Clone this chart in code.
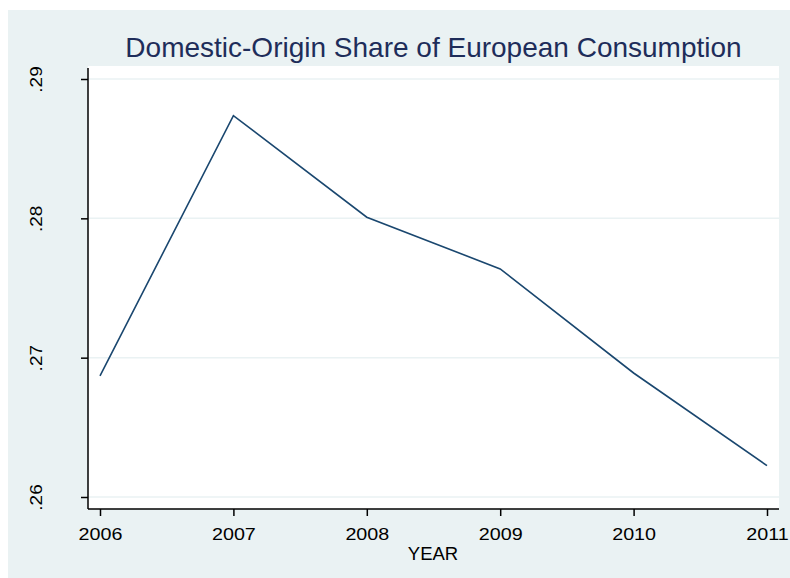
<!DOCTYPE html>
<html>
<meta charset="utf-8">
<style>
  body {
    margin: 0;
    background-color: #fff;
  }
  text {
    font-family: 'Liberation Sans', Arial, sans-serif;
  }
</style>
<body>
<script src="https://d3js.org/d3.v7.min.js"></script>
<script>

// values
var years = [2006, 2007, 2008, 2009, 2010, 2011];
var share = [0.2687, 0.28737, 0.28008, 0.27637, 0.2689, 0.26225];
var yTicks = [0.26, 0.27, 0.28, 0.29];
var yTickLabels = ['.26', '.27', '.28', '.29'];

var width = 790;
var height = 578;

var svg = d3
  .select('body')
  .append('svg')
  .attr('width', width)
  .attr('height', height);

// outer graph region (stata style)
svg
  .append('rect')
  .attr('x', 8)
  .attr('y', 10)
  .attr('width', width - 8)
  .attr('height', height - 10)
  .style('fill', '#eaf2f3');

var plot = { left: 88, right: 779, top: 66, bottom: 509 };

svg
  .append('rect')
  .attr('x', plot.left)
  .attr('y', plot.top)
  .attr('width', plot.right - plot.left)
  .attr('height', plot.bottom - plot.top)
  .style('fill', '#fff');

var x = d3
  .scaleLinear()
  .domain([2006, 2011])
  .range([100, 767]);

var y = d3
  .scaleLinear()
  .domain([0.26, 0.29])
  .range([497, 79]);

// gridlines
svg
  .append('g')
  .selectAll('line')
  .data(yTicks)
  .enter()
  .append('line')
  .attr('x1', plot.left)
  .attr('x2', plot.right)
  .attr('y1', function(d) { return y(d); })
  .attr('y2', function(d) { return y(d); })
  .style('stroke', '#eaf2f3')
  .style('stroke-width', 1.5);

// y axis
var yAxis = d3
  .axisLeft(y)
  .tickValues(yTicks)
  .tickSize(7)
  .tickPadding(0)
  .tickFormat(function(d, i) { return yTickLabels[i]; });

var gy = svg
  .append('g')
  .attr('transform', 'translate(' + plot.left + ',0)')
  .call(yAxis);

gy.select('.domain').remove();
gy.append('line')
  .attr('x1', 0)
  .attr('x2', 0)
  .attr('y1', plot.top + 2)
  .attr('y2', plot.bottom)
  .style('stroke', '#000')
  .style('stroke-width', 1.5);
gy.selectAll('.tick line').style('stroke', '#000').style('stroke-width', 1.5);
// labels are a bit wider than plain Arial in the original, hence the scale
gy.selectAll('.tick text')
  .attr('transform', 'translate(-46,0) rotate(-90) scale(1.12,1)')
  .attr('x', 0)
  .attr('dy', 0)
  .attr('text-anchor', 'middle')
  .style('font-size', '17px')
  .style('font-family', "'Liberation Sans', Arial, sans-serif")
  .style('fill', '#000');

// x axis
var xAxis = d3
  .axisBottom(x)
  .tickValues(years)
  .tickSize(7)
  .tickPadding(12)
  .tickFormat(d3.format('d'));

var gx = svg
  .append('g')
  .attr('transform', 'translate(0,' + plot.bottom + ')')
  .call(xAxis);

gx.select('.domain').remove();
gx.append('line')
  .attr('x1', plot.left)
  .attr('x2', plot.right)
  .attr('y1', 0)
  .attr('y2', 0)
  .style('stroke', '#000')
  .style('stroke-width', 1.5);
gx.selectAll('.tick line').style('stroke', '#000').style('stroke-width', 1.5);
gx.selectAll('.tick text')
  .attr('transform', 'scale(1.16,1)')
  .style('font-size', '17px')
  .style('font-family', "'Liberation Sans', Arial, sans-serif")
  .style('fill', '#000');

// the line
var line = d3
  .line()
  .x(function(d, i) { return x(years[i]); })
  .y(function(d) { return y(d); });

svg
  .append('path')
  .datum(share)
  .attr('d', line)
  .style('fill', 'none')
  .style('stroke', '#1a476f')
  .style('stroke-width', 1.6);

// titles
svg
  .append('text')
  .attr('x', (plot.left + plot.right) / 2)
  .attr('y', 57)
  .attr('text-anchor', 'middle')
  .style('font-size', '28px')
  .style('fill', '#1e2d5a')
  .text('Domestic-Origin Share of European Consumption');

svg
  .append('text')
  .attr('x', 433)
  .attr('y', 560)
  .attr('text-anchor', 'middle')
  .style('font-size', '18.5px')
  .style('fill', '#000')
  .text('YEAR');

</script>
</body>
</html>
